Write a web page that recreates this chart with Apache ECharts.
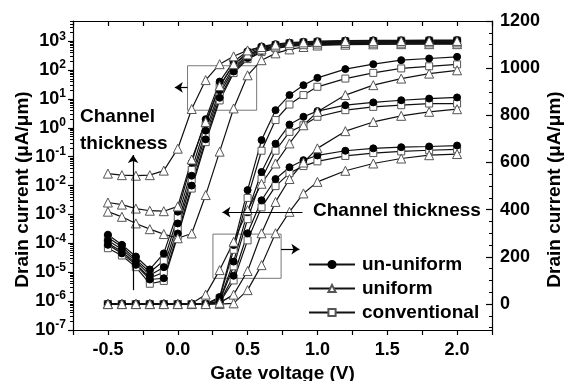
<!DOCTYPE html>
<html>
<head>
<meta charset="utf-8">
<script src="https://cdn.jsdelivr.net/npm/echarts@6/dist/echarts.min.js"></script>
<style>
html, body { margin: 0; padding: 0; background: #fff; }
#main { width: 566px; height: 381px; }
</style>
</head>
<body>
<div id="main"></div>
<script>
// gate voltage (V)
var gateV = [-0.5, -0.4, -0.3, -0.2, -0.1, 0.0, 0.1, 0.2, 0.3, 0.4, 0.5, 0.6, 0.7, 0.8, 0.9, 1.0, 1.2, 1.4, 1.6, 1.8, 2.0];

// drain current on log scale (left axis), uA/um
var logUnThick   = [2.0e-4, 8.9e-5, 3.5e-5, 1.25e-5, 4.5e-5, 1.25e-3, 6.3e-2, 2.0, 40, 200, 450, 660, 790, 890, 950, 1000, 1050, 1070, 1070, 1100, 1100];
var logUnMid     = [1.26e-4, 6.3e-5, 2.4e-5, 7.9e-6, 1.5e-5, 4.9e-4, 2.2e-2, 0.8, 20, 126, 330, 550, 690, 790, 850, 890, 930, 950, 980, 980, 1000];
var logUnThin    = [8.9e-5, 4.5e-5, 1.8e-5, 5.6e-6, 6.2e-6, 2.2e-4, 1.0e-2, 0.4, 11, 89, 260, 460, 600, 690, 760, 790, 830, 850, 850, 870, 870];
var logUniThick  = [2.6e-2, 2.3e-2, 2.2e-2, 2.3e-2, 3.3e-2, 0.19, 4.5, 45, 160, 300, 480, 630, 760, 850, 910, 950, 1000, 1000, 1020, 1020, 1020];
var logUniMid    = [2.6e-3, 2.2e-3, 1.6e-3, 1.35e-3, 1.3e-3, 1.9e-3, 8.0e-2, 1.6, 28, 160, 350, 520, 660, 740, 790, 830, 870, 890, 890, 910, 910];
var logUniThin   = [1.25e-3, 8.3e-4, 4.9e-4, 3.1e-4, 2.1e-4, 1.5e-4, 2.2e-4, 4.7e-3, 0.15, 4.7, 66, 220, 380, 520, 630, 710, 760, 780, 790, 790, 790];
var logConvThick = [1.6e-4, 7.6e-5, 2.8e-5, 1.0e-5, 2.5e-5, 7.9e-4, 3.5e-2, 1.26, 28, 160, 400, 600, 740, 850, 910, 950, 1000, 1020, 1050, 1050, 1050];
var logConvMid   = [1.0e-4, 5.2e-5, 2.0e-5, 6.3e-6, 1.0e-5, 3.2e-4, 1.6e-2, 0.56, 15, 107, 295, 500, 650, 740, 810, 850, 890, 910, 930, 930, 950];
var logConvThin  = [6.8e-5, 3.8e-5, 1.5e-5, 4.0e-6, 5.0e-6, 1.8e-4, 7.9e-3, 0.32, 8.9, 79, 240, 420, 560, 660, 720, 760, 790, 810, 810, 830, 830];

// drain current on linear scale (right axis), uA/um
var linUnThick   = [0, 0, 0, 0, 0, 0, 0, 0, 30, 250, 483, 695, 822, 886, 928, 959, 996, 1017, 1034, 1041, 1048];
var linUnMid     = [0, 0, 0, 0, 0, 0, 0, 0, 15, 180, 390, 560, 680, 761, 794, 818, 843, 855, 864, 871, 876];
var linUnThin    = [0, 0, 0, 0, 0, 0, 0, 0, 8, 120, 300, 440, 530, 580, 610, 630, 650, 660, 665, 668, 672];
var linUniThick  = [0, 0, 0, 0, 0, 0, 2, 40, 144, 264, 398, 510, 596, 681, 758, 815, 886, 928, 956, 977, 991];
var linUniMid    = [0, 0, 0, 0, 0, 0, 0, 0, 5, 40, 140, 300, 433, 530, 600, 660, 733, 772, 798, 815, 826];
var linUniThin   = [0, 0, 0, 0, 0, 0, 0, 0, 0, 3, 59, 165, 300, 391, 469, 518, 565, 596, 617, 631, 636];
var linConvThick = [0, 0, 0, 0, 0, 0, 0, 0, 25, 230, 450, 650, 780, 846, 886, 921, 956, 980, 999, 1008, 1016];
var linConvMid   = [0, 0, 0, 0, 0, 0, 0, 0, 12, 160, 360, 530, 650, 730, 758, 794, 822, 836, 843, 850, 850];
var linConvThin  = [0, 0, 0, 0, 0, 0, 0, 0, 6, 100, 270, 410, 500, 555, 585, 605, 628, 640, 647, 652, 656];

// axis ticks
var xLabels = [-0.5, 0, 0.5, 1.0, 1.5, 2.0];
var leftDecades = [-7, -6, -5, -4, -3, -2, -1, 0, 1, 2, 3];
var rightLabels = [0, 200, 400, 600, 800, 1000, 1200];

var legendNames = ['un-uniform', 'uniform', 'conventional'];

var font = '"Liberation Sans", Arial, sans-serif';

var markStyle = {
  'un-uniform':   { symbol: 'circle',   symbolSize: 7, itemStyle: { color: '#000', borderColor: '#000', borderWidth: 1 } },
  'uniform':      { symbol: 'triangle', symbolSize: 9, itemStyle: { color: '#fff', borderColor: '#555', borderWidth: 1 } },
  'conventional': { symbol: 'rect',     symbolSize: 7, itemStyle: { color: '#fff', borderColor: '#555', borderWidth: 1 } }
};

function makeSeries(name, values, yIndex, isLog) {
  var st = markStyle[name];
  return {
    name: name,
    type: 'line',
    xAxisIndex: 0,
    yAxisIndex: yIndex,
    data: gateV.map(function (v, i) { return [v, isLog ? Math.log10(values[i]) : values[i]]; }),
    symbol: st.symbol,
    symbolSize: st.symbolSize,
    showAllSymbol: true,
    itemStyle: st.itemStyle,
    lineStyle: { color: '#111', width: 1.2 },
    emphasis: { disabled: true },
    z: 3
  };
}

// minor ticks
var logMinor = [];
leftDecades.forEach(function (d) {
  for (var k = 2; k <= 9; k++) {
    var v = d + Math.log10(k);
    if (v < 3.7) logMinor.push(v);
  }
});
var linMinor = [];
for (var m = -100; m <= 1200; m += 50) linMinor.push(m);

var series = [
  makeSeries('conventional', logConvThin, 0, true),
  makeSeries('conventional', logConvMid, 0, true),
  makeSeries('conventional', logConvThick, 0, true),
  makeSeries('un-uniform', logUnThin, 0, true),
  makeSeries('un-uniform', logUnMid, 0, true),
  makeSeries('un-uniform', logUnThick, 0, true),
  makeSeries('uniform', logUniThin, 0, true),
  makeSeries('uniform', logUniMid, 0, true),
  makeSeries('uniform', logUniThick, 0, true),
  makeSeries('conventional', linConvThin, 1, false),
  makeSeries('conventional', linConvMid, 1, false),
  makeSeries('conventional', linConvThick, 1, false),
  makeSeries('un-uniform', linUnThin, 1, false),
  makeSeries('un-uniform', linUnMid, 1, false),
  makeSeries('un-uniform', linUnThick, 1, false),
  makeSeries('uniform', linUniThin, 1, false),
  makeSeries('uniform', linUniMid, 1, false),
  makeSeries('uniform', linUniThick, 1, false)
];

// zoom boxes and arrows
var arrowLine = { color: '#000', width: 1.2, type: 'solid' };
series.push({
  type: 'line',
  xAxisIndex: 0,
  yAxisIndex: 0,
  data: [],
  silent: true,
  markArea: {
    silent: true,
    itemStyle: { color: 'rgba(0,0,0,0)', borderColor: '#777', borderWidth: 1 },
    label: { show: false },
    data: [
      [{ coord: [0.07, 2.15] }, { coord: [0.565, 0.61] }],
      [{ coord: [0.252, -3.68] }, { coord: [0.74, -5.21] }]
    ]
  },
  markLine: {
    silent: true,
    symbol: ['none', 'arrow'],
    symbolSize: 8,
    lineStyle: arrowLine,
    label: { show: false },
    data: [
      [{ coord: [-0.32, -5.62] }, { coord: [-0.32, -0.94] }],
      [{ coord: [0.893, -2.92] }, { coord: [0.32, -2.92] }],
      [{ coord: [0.07, 1.40] }, { coord: [-0.021, 1.40] }],
      [{ coord: [0.74, -4.2] }, { coord: [0.871, -4.2] }]
    ]
  }
});

var labelFont = { fontFamily: font, fontWeight: 'bold', fontSize: 18, color: '#000' };
var nameFont = { fontFamily: font, fontWeight: 'bold', fontSize: 19, color: '#000' };

var option = {
  animation: false,
  backgroundColor: '#fff',
  grid: { left: 73, right: 74, top: 21, bottom: 51, containLabel: false, outerBoundsMode: 'none' },
  legend: {
    data: legendNames,
    orient: 'vertical',
    left: 303,
    top: 250,
    itemWidth: 46,
    itemHeight: 9,
    itemGap: 5,
    selectedMode: false,
    textStyle: { fontFamily: font, fontWeight: 'bold', fontSize: 19, color: '#000', padding: [0, 0, 0, 2] }
  },
  xAxis: [
    {
      type: 'value', position: 'bottom', min: -0.75, max: 2.25, interval: 0.25,
      name: 'Gate voltage (V)', nameLocation: 'middle', nameGap: 32, nameTextStyle: nameFont,
      axisLine: { show: true, onZero: false, lineStyle: { color: '#000', width: 1.2 } },
      axisTick: { show: true, inside: false, length: 5, lineStyle: { color: '#000', width: 1.2 } },
      axisLabel: Object.assign({ customValues: xLabels, margin: 11, formatter: function (v) { return v.toFixed(1); } }, labelFont),
      splitLine: { show: false }
    },
    {
      type: 'value', position: 'top', min: -0.75, max: 2.25, interval: 0.25,
      axisLine: { show: true, onZero: false, lineStyle: { color: '#000', width: 1.2 } },
      axisTick: { show: true, inside: true, length: 5, lineStyle: { color: '#000', width: 1.2 } },
      axisLabel: { show: false },
      splitLine: { show: false }
    }
  ],
  yAxis: [
    {
      type: 'value', position: 'left', min: -7, max: 3.7, interval: 1,
      name: 'Drain current (\u03bcA/\u03bcm)', nameLocation: 'middle', nameGap: 41, nameRotate: 90, nameMoveOverlap: false,
      nameTextStyle: Object.assign({ padding: [0, 28, 0, 0] }, nameFont),
      axisLine: { show: true, onZero: false, lineStyle: { color: '#000', width: 1.2 } },
      axisTick: { show: true, inside: false, length: 5, customValues: leftDecades, lineStyle: { color: '#000', width: 1.2 } },
      axisLabel: {
        customValues: leftDecades, margin: 7,
        formatter: function (v) { return '10{s|' + Math.round(v) + '}'; },
        rich: {
          s: { fontFamily: font, fontWeight: 'bold', fontSize: 12, color: '#000', padding: [0, 0, 10, 0] }
        },
        fontFamily: font, fontWeight: 'bold', fontSize: 18, color: '#000'
      },
      splitLine: { show: false }
    },
    {
      type: 'value', position: 'right', min: -110, max: 1200,
      name: 'Drain current (\u03bcA/\u03bcm)', nameLocation: 'middle', nameGap: 53, nameRotate: 90, nameMoveOverlap: false,
      nameTextStyle: Object.assign({ padding: [0, 28, 0, 0] }, nameFont),
      axisLine: { show: true, onZero: false, lineStyle: { color: '#000', width: 1.2 } },
      axisTick: { show: true, inside: true, length: 6, customValues: rightLabels, lineStyle: { color: '#000', width: 1.2 } },
      axisLabel: Object.assign({ customValues: rightLabels, margin: 8, formatter: function (v) { return String(v); } }, labelFont),
      splitLine: { show: false }
    },
    {
      type: 'value', position: 'left', min: -7, max: 3.7,
      axisLine: { show: false, onZero: false },
      axisTick: { show: true, inside: false, length: 3, customValues: logMinor, lineStyle: { color: '#000', width: 1 } },
      axisLabel: { show: false },
      splitLine: { show: false }
    },
    {
      type: 'value', position: 'right', min: -110, max: 1200,
      axisLine: { show: false, onZero: false },
      axisTick: { show: true, inside: true, length: 3, customValues: linMinor, lineStyle: { color: '#000', width: 1 } },
      axisLabel: { show: false },
      splitLine: { show: false }
    }
  ],
  graphic: [
    {
      type: 'text', left: 80, top: 103, z: 10,
      style: { text: 'Channel\nthickness', fontFamily: font, fontWeight: 'bold', fontSize: 19, lineHeight: 27, fill: '#000' }
    },
    {
      type: 'text', left: 313, top: 201, z: 10,
      style: { text: 'Channel thickness', fontFamily: font, fontWeight: 'bold', fontSize: 19, fill: '#000' }
    }
  ],
  series: series
};

var myChart = echarts.init(document.getElementById('main'));
myChart.setOption(option);
</script>
</body>
</html>
